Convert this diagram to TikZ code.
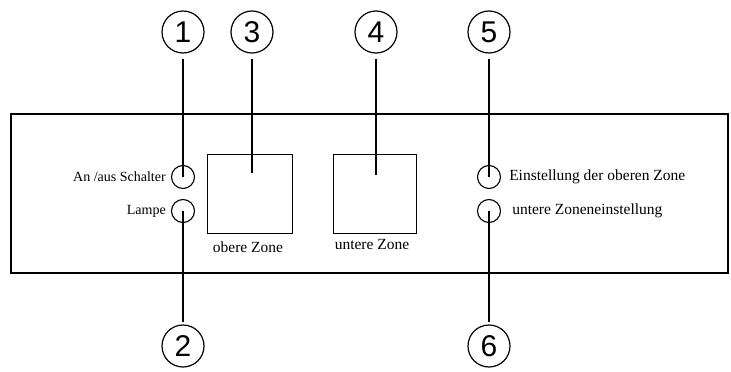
\documentclass[tikz,border=0pt]{standalone}
\usepackage{fontspec}
\setmainfont{Liberation Serif}
\newfontfamily\numfont{Liberation Sans}
\usepackage{tikz}
\usetikzlibrary{positioning}

\tikzset{
    callout/.style={circle, draw, line width=1.2pt, minimum size=42pt, inner sep=0pt, font=\numfont\fontsize{30}{30}\selectfont},
    knob/.style={circle, draw, line width=1.1pt, minimum size=23pt, inner sep=0pt},
    zonebox/.style={rectangle, draw, minimum height=79pt, inner sep=0pt},
    lbl/.style={inner sep=0pt, font=\fontsize{15.5}{17}\selectfont},
    smalllbl/.style={inner sep=0pt, font=\fontsize{14}{16}\selectfont},
    leader/.style={line width=1.3pt, shorten <=5pt}
}

\begin{document}
\begin{tikzpicture}[x=1pt, y=-1pt]
    \useasboundingbox (0,0) rectangle (731,372);

    % front panel
    \node[draw, line width=1.2pt, minimum width=717pt, minimum height=159pt, inner sep=0pt] (panel) at (369.5,193.5) {};

    % knobs left
    \node[knob] (k1) at (183,177) {};
    \node[smalllbl, left=5pt of k1] (t1) {An /aus Schalter};
    \node[knob] (k2) at (183,211) {};
    \node[smalllbl, left=5pt of k2] (t2) {Lampe};

    % zone displays
    \node[zonebox, minimum width=85pt] (z3) at (249.5,193.5) {};
    \node[lbl] (t3) at (248,247) {obere Zone};
    \node[zonebox, minimum width=83pt] (z4) at (374.5,193.5) {};
    \node[lbl] (t4) at (372,244) {untere Zone};

    % knobs right
    \node[knob] (k5) at (489,177) {};
    \node[lbl, right=8pt of k5] (t5) {Einstellung der oberen Zone};
    \node[knob] (k6) at (489,211) {};
    \node[lbl, right=11pt of k6] (t6) {untere Zoneneinstellung};

    % callout numbers
    \node[callout] (c1) at (183,32) {1};
    \node[callout] (c3) at (252,32) {3};
    \node[callout] (c4) at (376,32) {4};
    \node[callout] (c5) at (489,32) {5};
    \node[callout] (c2) at (183,346) {2};
    \node[callout] (c6) at (489,346) {6};

    \coordinate (e3) at (252,173);
    \coordinate (e4) at (376,175);

    \draw[leader] (c1) -- (k1.center);
    \draw[leader] (c3) -- (e3);
    \draw[leader] (c4) -- (e4);
    \draw[leader] (c5) -- (k5.center);
    \draw[leader, shorten <=2pt] (c2) -- (k2.center);
    \draw[leader, shorten <=2pt] (c6) -- (k6.center);
\end{tikzpicture}
\end{document}
